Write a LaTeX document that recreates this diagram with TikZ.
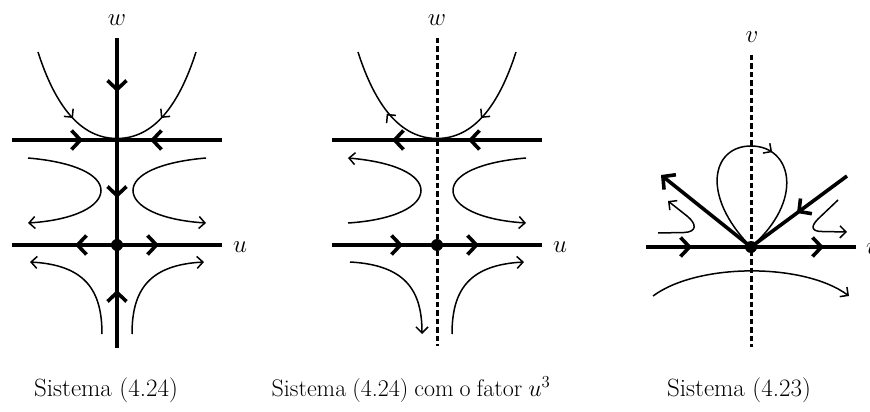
\RequirePackage{fix-cm}
\documentclass[tikz,border=0pt]{standalone}
\usetikzlibrary{arrows.meta,decorations.markings}
\begin{document}
\begin{tikzpicture}[x=1pt,y=-1pt,
  font=\fontsize{25}{30}\selectfont,
  axisline/.style={line width=3.6pt},
  dashaxis/.style={line width=3pt, dash pattern=on 5.5pt off 3pt},
  chev/.style={line width=3.6pt, -{Straight Barb[length=9pt,width=19pt]}},
  flow/.style={line width=1.5pt},
  flowarr/.style={line width=1.5pt, -{Straight Barb[length=6pt,width=12pt]}},
  lbl/.style={inner sep=0pt},
  captxt/.style={anchor=base, inner sep=0pt},
]
\useasboundingbox (0,0) rectangle (870,412);

% ---------------- Panel 1 ----------------
\coordinate (O1) at (117,245);
\draw[axisline] (117,38) -- (117,348);
\draw[axisline] (12,140) -- (222,140);
\draw[axisline] (12,245) -- (222,245);
\draw[chev] (81,140) -- (83,140);
\draw[chev] (152,140) -- (150,140);
\draw[chev] (77,245) -- (75,245);
\draw[chev] (157,245) -- (159,245);
\draw[chev] (117,90) -- (117,92);
\draw[chev] (117,196) -- (117,198);
\draw[chev] (117,292) -- (117,290);
\fill (O1) circle (6pt);
\node[lbl] (w1) at (117,20) {$w$};
\node[lbl, anchor=west] (u1) at (233,247) {$u$};
% parabola
\draw[flow] (38,52) .. controls (55,105) and (80,138.5) .. (117,138.5) .. controls (154,138.5) and (179,105) .. (196,52);
\draw[flowarr] (71.6,116.3) -- (73,118);
\draw[flowarr] (162.4,116.3) -- (161,118);
% middle curves
\draw[flowarr] (28,158) .. controls (75,162) and (101,175) .. (101,190.5) .. controls (101,206) and (75,220) .. (28,223);
\draw[flowarr] (206,158) .. controls (159,162) and (133,175) .. (133,190.5) .. controls (133,206) and (159,220) .. (206,223);
% bottom curves
\draw[flowarr] (102,334) .. controls (102,290) and (85,265) .. (30,262);
\draw[flowarr] (132,334) .. controls (132,290) and (149,265) .. (204,262);
\node[captxt] (c1) at (106,396) {Sistema (4.24)};

% ---------------- Panel 2 ----------------
\coordinate (O2) at (437,245);
\draw[dashaxis] (437,38) -- (437,346);
\draw[axisline] (332,140) -- (542,140);
\draw[axisline] (332,245) -- (542,245);
\draw[chev] (394,140) -- (392,140);
\draw[chev] (470,140) -- (468,140);
\draw[chev] (401,245) -- (403,245);
\draw[chev] (477,245) -- (479,245);
\fill (O2) circle (6pt);
\node[lbl] (w2) at (437,20) {$w$};
\node[lbl, anchor=west] (u2) at (553,247) {$u$};
\draw[flow] (358,52) .. controls (375,105) and (400,138.5) .. (437,138.5) .. controls (474,138.5) and (499,105) .. (516,52);
\draw[flowarr] (388.2,115.6) -- (386.7,113.8);
\draw[flowarr] (482.4,116.3) -- (481,118);
\draw[flowarr] (348,223) .. controls (395,220) and (421,206) .. (421,190.5) .. controls (421,175) and (395,162) .. (348,158);
\draw[flowarr] (526,158) .. controls (479,162) and (453,175) .. (453,190.5) .. controls (453,206) and (479,220) .. (526,223);
\draw[flowarr] (350,262) .. controls (405,265) and (422,290) .. (422,334);
\draw[flowarr] (452,334) .. controls (452,290) and (469,265) .. (524,262);
\node[captxt, font=\fontsize{24}{29}\selectfont] (c2) at (411,396) {\spaceskip=0.25em Sistema (4.24) com o fator $u^3$};

% ---------------- Panel 3 ----------------
\coordinate (O3) at (751,247);
\draw[dashaxis] (751,55) -- (751,347);
\draw[axisline] (646,247) -- (856,247);
\draw[chev] (690,247) -- (692,247);
\draw[chev] (822,247) -- (824,247);
\draw[axisline, -{Straight Barb[length=9pt,width=19pt]}] (O3) -- (661,175);
\draw[axisline] (O3) -- (847,176);
\draw[chev] (799,211.5) -- (797,213);
\draw[flow, postaction={decorate}, decoration={markings, mark=at position 0.58 with {\arrow[line width=1.5pt]{Straight Barb[length=6pt,width=12pt]}}}]
  (O3) .. controls (700,195) and (712,146) .. (751,146) .. controls (792,146) and (805,200) .. (O3);
\draw[flowarr] (658,233) -- (684,232.5) .. controls (697,232) and (697,224) .. (687,216) -- (668,201);
\draw[flowarr] (838,200) -- (818,219) .. controls (810,227) and (812,231.5) .. (822,231.5) -- (847,232);
\draw[flowarr] (653,296) .. controls (698,262.7) and (804,262.7) .. (849,296);
\fill (O3) circle (6pt);
\node[lbl] (v3) at (752,37) {$v$};
\node[lbl, anchor=west] (u3) at (866,249) {$u$};
\node[captxt] (c3) at (739,396) {Sistema (4.23)};
\end{tikzpicture}
\end{document}
